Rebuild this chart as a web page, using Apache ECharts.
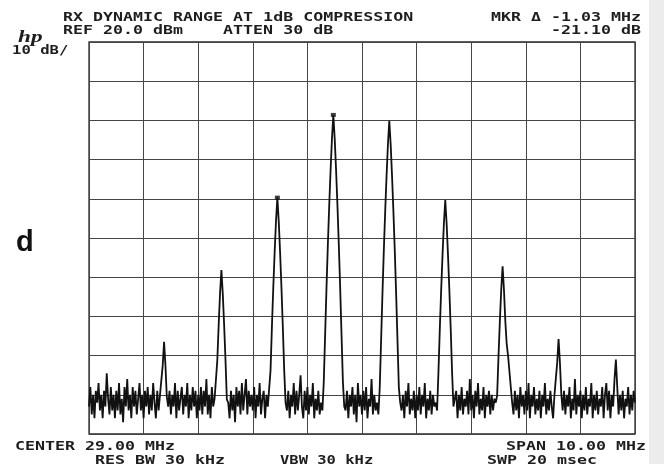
<!DOCTYPE html>
<html>
<head>
<meta charset="utf-8">
<script src="https://cdn.jsdelivr.net/npm/echarts@6/dist/echarts.min.js"></script>
<style>
  html, body { margin: 0; padding: 0; background: #ffffff; }
  #chart { width: 664px; height: 464px; }
</style>
</head>
<body>
<div id="chart"></div>
<script>
// Sweep settings
const startMHz = 24.0;
const stopMHz = 34.0;
const stepMHz = 0.025;
const refLevelDbm = 20;
const bottomDbm = -80;
const dbPerDiv = 10;
const mhzPerDiv = 1;

// Swept trace, dBm per point (401 points, 24.000 .. 34.000 MHz)
const traceDbm = [
  -73,-68,-75,-70,-76,-69,-72,-67,-74,-70,-76,-69,-73,-64.5,-71,-75,-68,-74,-70,-76,
  -69,-74,-67,-75,-71,-77,-68,-73,-66,-74,-70,-76,-68,-73,-69,-75,-71,-67,-74,-70,
  -76,-69,-73,-68,-75,-70,-74,-67,-72,-76,-69,-74,-70,-70.5,-62.5,-56.5,-62.5,-70.5,-73,-69,
  -75,-70,-73,-67,-76,-69,-74,-71,-68,-75,-70,-73,-67,-76,-70,-74,-68,-73,-69,-76,
  -70,-74,-68,-75,-69,-73,-66,-75,-70,-76,-68,-73,-71,-71.2,-61.2,-52.2,-44.2,-38.2,-44.2,-52.2,
  -61.2,-71.2,-72,-76,-69,-74,-70,-77,-68,-73,-69,-75,-67,-74,-70,-66,-75,-69,-73,-70,
  -74,-68,-76,-70,-73,-67,-75,-71,-69,-76,-70,-73,-73,-63.7,-52.7,-42.7,-33.7,-25.7,-19.7,-25.7,
  -33.7,-42.7,-52.7,-63.7,-72,-74,-69,-76,-70,-73,-67,-75,-69,-74,-70,-65,-73,-76,-69,-74,
  -68,-75,-70,-73,-67,-76,-71,-74,-69,-75,-72,-74,-66.6,-54.6,-42.6,-31.6,-21.6,-12.6,-4.6,1.4,
  -4.6,-12.6,-21.6,-31.6,-42.6,-54.6,-66.6,-73,-74,-69,-76,-70,-73,-68,-75,-70,-77,-67,-73,-70,
  -75,-69,-74,-68,-76,-71,-73,-66,-75,-70,-74,-72,-75,-68.1,-56.1,-44.1,-33.1,-23.1,-14.1,-6.1,
  -0.1,-6.1,-14.1,-23.1,-33.1,-44.1,-56.1,-68.1,-72,-74,-70,-76,-69,-73,-67,-75,-71,-74,-69,-76,
  -70,-74,-68,-75,-70,-73,-67,-76,-71,-74,-69,-75,-70,-73,-72,-74,-64.3,-53.3,-43.3,-34.3,
  -26.3,-20.3,-26.3,-34.3,-43.3,-53.3,-64.3,-73,-73,-69,-76,-70,-74,-68,-75,-71,-73,-69,-75,-66,
  -74,-70,-76,-69,-73,-67,-75,-71,-74,-68,-76,-70,-73,-69,-75,-70,-74,-71,-72,-70.2,
  -60.2,-51.2,-43.2,-37.2,-43.2,-51.2,-57,-60,-64,-68,-72,-75,-69,-74,-70,-76,-68,-73,-70,-75,
  -69,-74,-67,-76,-70,-73,-68,-75,-71,-74,-69,-76,-70,-73,-67,-75,-71,-74,-69,-73,
  -76,-70,-69.8,-61.8,-55.8,-61.8,-69.8,-74,-69,-75,-70,-73,-68,-76,-71,-74,-66,-75,-70,-73,
  -69,-76,-70,-74,-68,-75,-71,-73,-67,-76,-70,-74,-69,-75,-71,-73,-68,-76,-70,-67,
  -74,-69,-76,-70,-73,-66,-61,-68,-75,-70,-74,-69,-76,-71,-73,-68,-75,-70,-74,-69,-72
];

// Marker (reference) and delta marker, as trace point indices
const markerIndex = 179;
const deltaMarkerIndex = 138;

// Annotation texts
const titleText = 'RX DYNAMIC RANGE AT 1dB COMPRESSION';
const refText = 'REF 20.0 dBm    ATTEN 30 dB';
const mkrFreqText = 'MKR \u0394 -1.03 MHz';
const mkrLevelText = '-21.10 dB';
const scaleText = '10 dB/';
const centerText = 'CENTER 29.00 MHz';
const spanText = 'SPAN 10.00 MHz';
const rbwText = 'RES BW 30 kHz';
const vbwText = 'VBW 30 kHz';
const sweepText = 'SWP 20 msec';
const logoText = 'hp';
const panelText = 'd';

const freqAt = i => +(startMHz + i * stepMHz).toFixed(3);
const traceData = traceDbm.map((v, i) => [freqAt(i), v]);
const markerData = [markerIndex, deltaMarkerIndex].map(i => [freqAt(i), traceDbm[i]]);

const INK = '#1e1e1e';
const MONO = '"DejaVu Sans Mono", "Liberation Mono", monospace';

function crtText(text, x, y, align, sx) {
  return {
    type: 'text', x: x, y: y, scaleX: sx || 1.385, silent: true,
    style: {
      text: text, fill: INK, fontFamily: MONO, fontSize: 12, fontWeight: 'bold',
      align: align, verticalAlign: 'middle'
    }
  };
}

const chart = echarts.init(document.getElementById('chart'), null, { renderer: 'canvas' });
chart.setOption({
  animation: false,
  backgroundColor: '#ffffff',
  grid: {
    left: 89, right: 29, top: 42, bottom: 30,
    show: true, borderColor: '#2a2a2a', borderWidth: 1.3, backgroundColor: 'transparent'
  },
  xAxis: {
    type: 'value', min: startMHz, max: stopMHz, interval: mhzPerDiv,
    axisLine: { show: false }, axisTick: { show: false }, axisLabel: { show: false },
    splitLine: { show: true, lineStyle: { color: '#454545', width: 1 } }
  },
  yAxis: {
    type: 'value', min: bottomDbm, max: refLevelDbm, interval: dbPerDiv,
    axisLine: { show: false }, axisTick: { show: false }, axisLabel: { show: false },
    splitLine: { show: true, lineStyle: { color: '#454545', width: 1 } }
  },
  series: [
    {
      type: 'line', data: traceData, showSymbol: false, symbol: 'none',
      lineStyle: { color: '#111111', width: 1.8, join: 'miter', miterLimit: 2 }, silent: true, z: 3
    },
    {
      type: 'scatter', data: markerData, symbol: 'rect', symbolSize: [5, 4],
      itemStyle: { color: '#111111' }, silent: true, z: 4
    }
  ],
  graphic: [
    { type: 'rect', shape: { x: 649, y: 0, width: 15, height: 464 }, style: { fill: '#ececec' }, silent: true },
    crtText(titleText, 63, 17.5, 'left'),
    crtText(refText, 63, 31, 'left'),
    crtText(mkrFreqText, 641, 17.5, 'right'),
    crtText(mkrLevelText, 641, 31, 'right'),
    crtText(scaleText, 12, 51, 'left', 1.3),
    crtText(centerText, 15, 446.5, 'left'),
    crtText(spanText, 646, 446.5, 'right'),
    crtText(rbwText, 95, 461, 'left'),
    crtText(vbwText, 280, 461, 'left', 1.29),
    crtText(sweepText, 487, 461, 'left'),
    {
      type: 'text', x: 18, y: 38, scaleX: 1.45, silent: true,
      style: { text: logoText, fill: INK, fontFamily: '"Liberation Serif", serif', fontStyle: 'italic',
               fontWeight: 'bold', fontSize: 16, align: 'left', verticalAlign: 'middle' }
    },
    {
      type: 'text', x: 16, y: 243, silent: true,
      style: { text: panelText, fill: '#111111', fontFamily: '"Liberation Sans", Arial, sans-serif',
               fontWeight: 'bold', fontSize: 29, align: 'left', verticalAlign: 'middle' }
    }
  ]
});
</script>
</body>
</html>
